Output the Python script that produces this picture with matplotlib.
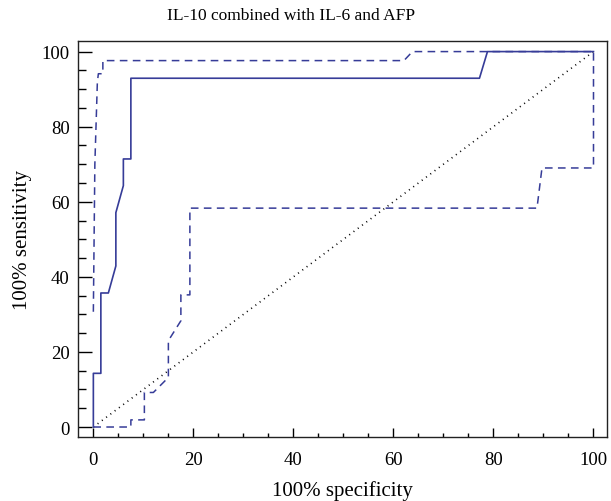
import matplotlib
matplotlib.use('Agg')
import matplotlib.pyplot as plt
from matplotlib.ticker import MultipleLocator

plt.rcParams['font.family'] = ['Liberation Serif', 'DejaVu Serif']

# ROC curve and its confidence bounds (100-specificity, sensitivity)
roc_x = [0, 0, 1.5, 1.5, 3.0, 4.5, 4.5, 6.0, 6.0, 7.5, 7.5, 77.2, 78.8, 100]
roc_y = [0, 14.3, 14.3, 35.7, 35.7, 42.9, 57.1, 64.3, 71.4, 71.4, 92.9, 92.9, 100, 100]

upper_x = [0, 0.3, 0.8, 1.0, 1.9, 1.9, 62.1, 63.8, 100]
upper_y = [30.7, 70, 91.8, 94.1, 94.1, 97.6, 97.6, 100, 100]

lower_x = [0, 7.5, 7.5, 10.2, 10.2, 12.0, 15.0, 15.0, 17.5, 17.5, 19.3, 19.3, 88.7, 89.7, 100, 100]
lower_y = [0, 0, 1.9, 1.9, 9.2, 9.2, 13.2, 23.0, 28.3, 35.2, 35.2, 58.3, 58.3, 69.0, 69.0, 100]

ref_x = [0, 100]
ref_y = [0, 100]

blue = '#363c98'

fig = plt.figure(figsize=(6.11, 5.02), dpi=100)
ax = fig.add_axes([78/611, 1 - 438/502, 529/611, (438 - 41.7)/502])

ax.plot(ref_x, ref_y, color='black', lw=1.2, linestyle=(0, (0.6, 2.6)))
ax.plot(lower_x, lower_y, color=blue, lw=1.1, linestyle=(0, (5, 3.5)))
ax.plot(upper_x, upper_y, color=blue, lw=1.1, linestyle=(0, (5, 3.5)))
ax.plot(roc_x, roc_y, color=blue, lw=1.2)

ax.set_xlim(-3.07, 102.7)
ax.set_ylim(-2.66, 102.9)
ax.xaxis.set_major_locator(MultipleLocator(20))
ax.xaxis.set_minor_locator(MultipleLocator(5))
ax.yaxis.set_major_locator(MultipleLocator(20))
ax.yaxis.set_minor_locator(MultipleLocator(5))

ax.tick_params(axis='x', which='major', direction='in', length=6.2, width=1, labelsize=13.5, pad=10)
ax.tick_params(axis='x', which='minor', direction='in', length=3, width=1)
ax.tick_params(axis='y', which='major', direction='in', length=10, width=1, labelsize=13.5, pad=6)
ax.tick_params(axis='y', which='minor', direction='in', length=6, width=1)

for s in ax.spines.values():
    s.set_linewidth(1.0)
    s.set_color('#222222')

ax.set_xlabel('100% specificity', fontsize=15, labelpad=9)
ax.set_ylabel('100% sensitivity', fontsize=15, labelpad=7)
fig.text(291/611, 1 - 16/502, 'IL-10 combined with IL-6 and AFP', fontsize=12.5,
         ha='center', va='center')

fig.savefig('out.png', dpi=100)
